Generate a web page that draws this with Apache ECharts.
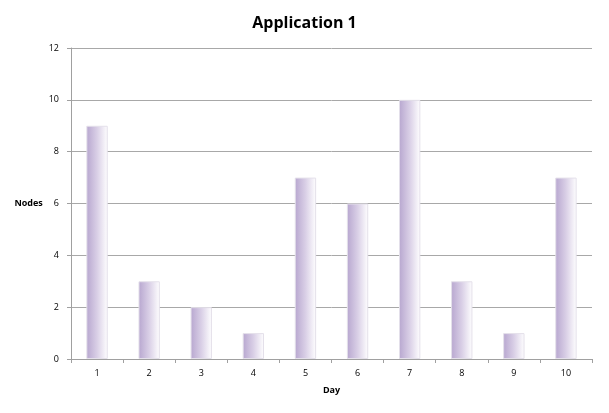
<!DOCTYPE html>
<html><head><meta charset="utf-8">
<script src="https://cdn.jsdelivr.net/npm/echarts@6/dist/echarts.min.js"></script>
<style>html,body{margin:0;padding:0;background:#fff}#c{width:609px;height:413px}</style>
</head><body><div id="c"></div>
<script>
const categories = ['1','2','3','4','5','6','7','8','9','10'];
const nodes = [9,3,2,1,7,6,10,3,1,7];
const yTicks = {min:0, max:12, interval:2};

const chart = echarts.init(document.getElementById('c'));
const barColor = new echarts.graphic.LinearGradient(0,0,1,0,[
  {offset:0, color:'#b7a6cf'},
  {offset:0.5, color:'#d9cfe6'},
  {offset:1, color:'#ffffff'}
]);
chart.setOption({
  animation:false,
  backgroundColor:'#fff',
  title:{text:'Application 1', left:'center', top:10,
    textStyle:{fontFamily:'Open Sans', fontSize:16, fontWeight:'bold', color:'#000'}},
  grid:{left:71, right:17, top:48, bottom:54},
  xAxis:{type:'category', data:categories, name:'Day', nameLocation:'middle', nameGap:27,
    nameTextStyle:{fontFamily:'Open Sans', fontSize:9, fontWeight:'bold', color:'#000'},
    axisLine:{lineStyle:{color:'#a0a0a0'}},
    axisTick:{show:true, length:4, lineStyle:{color:'#a0a0a0'}},
    axisLabel:{fontFamily:'Open Sans', fontSize:9, color:'#000', margin:10}},
  yAxis:{type:'value', min:yTicks.min, max:yTicks.max, interval:yTicks.interval,
    name:'Nodes', nameLocation:'middle', nameGap:26, nameRotate:0,
    nameTextStyle:{fontFamily:'Open Sans', fontSize:9, fontWeight:'bold', color:'#000', align:'right', padding:[0,0,0,0]},
    axisLine:{show:true, lineStyle:{color:'#a0a0a0'}},
    axisTick:{show:true, length:4, lineStyle:{color:'#a0a0a0'}},
    splitLine:{lineStyle:{color:'#a8a8a8', width:1}},
    axisLabel:{fontFamily:'Open Sans', fontSize:9, color:'#000', margin:12}},
  series:[{type:'bar', data:nodes, barWidth:'41%',
    itemStyle:{color:barColor, borderColor:'#e4e0ea', borderWidth:1}}]
});
</script></body></html>
